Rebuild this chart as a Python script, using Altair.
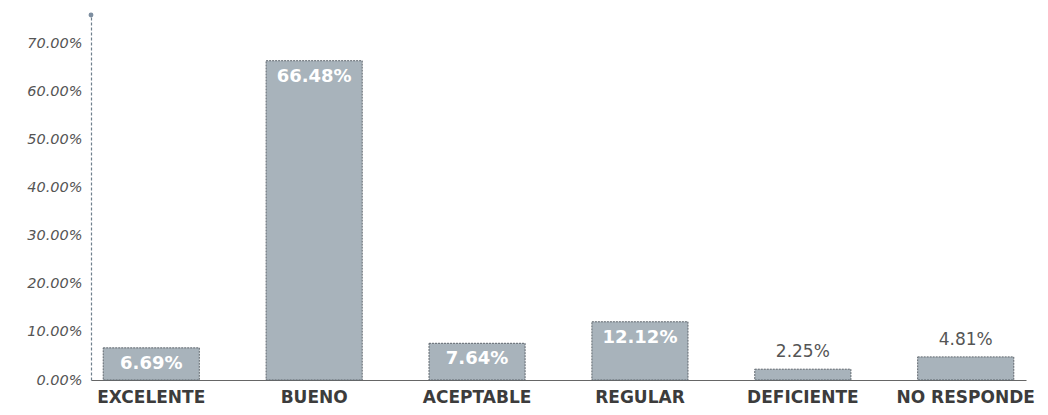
import altair as alt
import pandas as pd

categories = ["EXCELENTE", "BUENO", "ACEPTABLE", "REGULAR", "DEFICIENTE", "NO RESPONDE"]
values = [6.69, 66.48, 7.64, 12.12, 2.25, 4.81]
tick_values = [0, 10, 20, 30, 40, 50, 60, 70]

df = pd.DataFrame({"cat": categories, "value": values})

x_enc = alt.X("cat:N", sort=categories, title=None,
              scale=alt.Scale(paddingInner=0.41, paddingOuter=0.075),
              axis=alt.Axis(labelAngle=0, labelFont="DejaVu Sans", labelFontSize=17,
                            labelColor="#3c3c3c", labelFontWeight="bold", labelPadding=9,
                            ticks=False, domainColor="#666666", domainWidth=1.2))
y_scale = alt.Scale(domain=[0, 76], nice=False)

base = alt.Chart(df)

bars = base.mark_bar(color="#a8b3bb", stroke="#5f666d", strokeWidth=1,
                     strokeDash=[2, 1]).encode(
    x=x_enc,
    y=alt.Y("value:Q", scale=y_scale, title=None,
            axis=alt.Axis(values=tick_values, grid=False, ticks=False,
                          labelExpr="format(datum.value, '.2f') + '%'",
                          labelFont="DejaVu Sans", labelFontStyle="italic",
                          labelFontSize=14.5, labelColor="#555555", labelPadding=9,
                          domainColor="#6f7f8c", domainDash=[3, 2], domainWidth=1.2)),
)

inside = base.transform_filter("datum.value > 5").transform_calculate(
    label="format(datum.value, '.2f') + '%'"
).mark_text(font="DejaVu Sans", fontSize=18, fontWeight="bold", color="white",
            baseline="middle", dy=16).encode(
    x=alt.X("cat:N", sort=categories),
    y=alt.Y("value:Q", scale=y_scale),
    text="label:N",
)

outside = base.transform_filter("datum.value <= 5").transform_calculate(
    label="format(datum.value, '.2f') + '%'"
).mark_text(font="DejaVu Sans", fontSize=17, color="#555555",
            baseline="middle", dy=-17).encode(
    x=alt.X("cat:N", sort=categories),
    y=alt.Y("value:Q", scale=y_scale),
    text="label:N",
)

dot = alt.Chart(pd.DataFrame({"v": [76]})).mark_circle(size=24, color="#7d8ea0", opacity=1).encode(
    x=alt.value(0),
    y=alt.Y("v:Q", scale=y_scale),
)

chart = alt.layer(bars, inside, outside, dot).properties(
    width=935, height=365,
    background="white",
    autosize=alt.AutoSizeParams(type="none"),
    padding={"left": 83, "top": 7, "right": 14, "bottom": 27},
).configure_view(strokeWidth=0, stroke="transparent")

chart.save("out.html", embed_options={"renderer": "svg", "actions": False})
